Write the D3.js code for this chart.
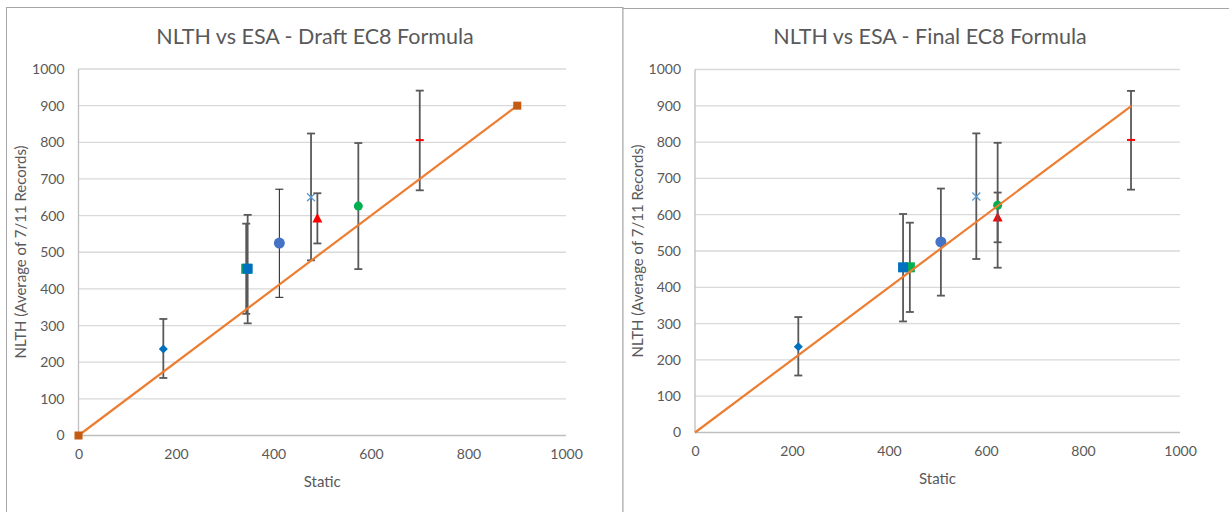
<!DOCTYPE html>
<html><head><meta charset="utf-8">
<script src="https://cdn.jsdelivr.net/npm/d3@7"></script>
<style>
html,body{margin:0;padding:0;background:#fff;}
svg{display:block;font-family:Lato,"Open Sans",sans-serif;}
</style></head>
<body>
<svg id="c" width="1229" height="512"></svg>
<script>
// ---- data ----
const titles = ["NLTH vs ESA - Draft EC8 Formula", "NLTH vs ESA - Final EC8 Formula"];
const xAxisTitle = "Static";
const yAxisTitle = "NLTH (Average of 7/11 Records)";
const ticks = [0, 200, 400, 600, 800, 1000];
const yTicks = [0, 100, 200, 300, 400, 500, 600, 700, 800, 900, 1000];
const markers = ["diamond", "square", "square", "circle", "cross", "triangle", "circle", "dash"];
const colors = ["#0070C0", "#00B050", "#0070C0", "#4472C4", "#5B9BD5", "#FF0000", "#00B050", "#FF0000"];
const staticDraft = [174, 344, 347, 412, 477, 490, 574, 700];
const staticFinal = [213, 443, 429, 507, 580, 624, 624, 899];
const nlth = [236, 455, 455, 525, 650, 592, 626, 806];
const errLow = [157, 332, 306, 377, 478, 524, 454, 669];
const errHigh = [318, 578, 602, 672, 824, 661, 798, 941];
const lineX = [0, 900];
const lineY = [0, 900];

const svg = d3.select("#c");

function drawChart(cfg) {
  const g = svg.append("g");
  // frame
  g.append("rect").attr("x", cfg.bx).attr("y", cfg.by).attr("width", cfg.bw).attr("height", 600)
    .attr("fill", "#fff").attr("stroke", "#a6a6a6").attr("stroke-width", 1);
  const x = d3.scaleLinear().domain([0, 1000]).range([cfg.x0, cfg.x1]);
  const y = d3.scaleLinear().domain([0, 1000]).range([cfg.y0, cfg.y1]);

  // gridlines
  g.append("g").selectAll("line").data(yTicks.filter(d => d > 0)).join("line")
    .attr("x1", x(0)).attr("x2", x(1000)).attr("y1", d => y(d)).attr("y2", d => y(d))
    .attr("stroke", "#d9d9d9").attr("stroke-width", 1.3);
  // axes lines
  g.append("line").attr("x1", x(0)).attr("x2", x(1000)).attr("y1", y(0)).attr("y2", y(0))
    .attr("stroke", "#bfbfbf").attr("stroke-width", 1.3);
  g.append("line").attr("x1", x(0)).attr("x2", x(0)).attr("y1", y(0)).attr("y2", y(1000))
    .attr("stroke", "#bfbfbf").attr("stroke-width", 1.3);

  // tick labels
  const fmt = d3.format("d");
  const yAx = d3.axisLeft(y).tickValues(yTicks).tickFormat(fmt).tickSize(0).tickPadding(14);
  const ya = g.append("g").attr("transform", `translate(${x(0)},0)`).call(yAx);
  ya.select(".domain").remove();
  ya.selectAll("text").attr("fill", "#595959").style("font-size", "14px").style("font-family", "Lato");
  const xAx = d3.axisBottom(x).tickValues(ticks).tickFormat(fmt).tickSize(0).tickPadding(14);
  const xa = g.append("g").attr("transform", `translate(0,${y(0)})`).call(xAx);
  xa.select(".domain").remove();
  xa.selectAll("text").attr("fill", "#595959").style("font-size", "14px").style("font-family", "Lato");

  // titles
  g.append("text").attr("x", cfg.tx).attr("y", cfg.ty).attr("text-anchor", "middle")
    .attr("fill", "#595959").style("font-size", "21.5px").text(cfg.title);
  g.append("text").attr("x", (x(0) + x(1000)) / 2).attr("y", cfg.sy).attr("text-anchor", "middle")
    .attr("fill", "#595959").style("font-size", "15px").text(xAxisTitle);
  g.append("text").attr("transform", `translate(${cfg.ax},${cfg.ay}) rotate(-90)`)
    .attr("text-anchor", "middle").attr("fill", "#595959").style("font-size", "15px").text(yAxisTitle);

  const xs = cfg.xs;
  // series with error bars
  for (let i = 0; i < xs.length; i++) {
    const px = x(xs[i]), py = y(nlth[i]);
    const thin = cfg.thinIdx === i;
    const ec = thin ? "#1a1a1a" : "#595959";
    const ew = thin ? 1 : 1.8;
    const eb = g.append("g").attr("stroke", ec).attr("stroke-width", ew);
    eb.append("line").attr("x1", px).attr("x2", px).attr("y1", y(errLow[i])).attr("y2", y(errHigh[i]));
    eb.append("line").attr("x1", px - 4).attr("x2", px + 4).attr("y1", y(errLow[i])).attr("y2", y(errLow[i]));
    eb.append("line").attr("x1", px - 4).attr("x2", px + 4).attr("y1", y(errHigh[i])).attr("y2", y(errHigh[i]));
    const c = colors[i];
    const m = markers[i];
    if (m === "diamond") {
      g.append("path").attr("d", `M${px},${py-4.5}L${px+4.5},${py}L${px},${py+4.5}L${px-4.5},${py}Z`).attr("fill", c);
    } else if (m === "square") {
      g.append("rect").attr("x", px - 5).attr("y", py - 5).attr("width", 10).attr("height", 10).attr("fill", c);
    } else if (m === "circle") {
      const r = i === 3 ? 5.5 : 4.5;
      g.append("circle").attr("cx", px).attr("cy", py).attr("r", r).attr("fill", c);
    } else if (m === "triangle") {
      g.append("path").attr("d", `M${px},${py-5.5}L${px+5},${py+4}L${px-5},${py+4}Z`).attr("fill", c);
    } else if (m === "cross") {
      g.append("path").attr("d", `M${px-4},${py-4}L${px+4},${py+4}M${px-4},${py+4}L${px+4},${py-4}`)
        .attr("stroke", c).attr("stroke-width", 1.3).attr("fill", "none");
    } else if (m === "dash") {
      g.append("line").attr("x1", px - 4).attr("x2", px + 4).attr("y1", py).attr("y2", py)
        .attr("stroke", c).attr("stroke-width", 2);
    }
  }
  // 1:1 line
  const pts = lineX.map((d, i) => [d, lineY[i]]);
  g.append("path").attr("d", d3.line().x(d => x(d[0])).y(d => y(d[1]))(pts))
    .attr("stroke", "#ED7D31").attr("stroke-width", 2.2).attr("fill", "none");
  if (cfg.endMarkers) {
    g.append("g").selectAll("rect").data(pts).join("rect")
      .attr("x", d => x(d[0]) - 4).attr("y", d => y(d[1]) - 4).attr("width", 8).attr("height", 8)
      .attr("fill", "#C55A11");
  }
}

drawChart({bx: 6.5, by: 7.5, bw: 616.5, x0: 78.5, x1: 566, y0: 435.5, y1: 69, tx: 315, ty: 44, sy: 487, ax: 26, ay: 252,
  title: titles[0], xs: staticDraft, thinIdx: 3, endMarkers: true});
drawChart({bx: 623, by: 8.5, bw: 700, x0: 695, x1: 1180, y0: 432.5, y1: 69.5, tx: 930, ty: 44, sy: 484, ax: 643, ay: 251,
  title: titles[1], xs: staticFinal, thinIdx: -1, endMarkers: false});
</script>
</body></html>
